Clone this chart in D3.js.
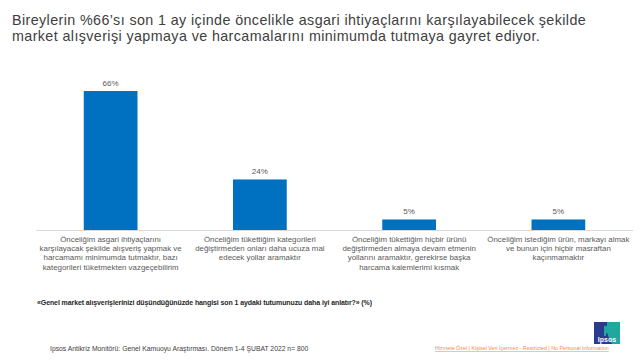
<!DOCTYPE html>
<html><head><meta charset="utf-8">
<script src="https://cdn.jsdelivr.net/npm/d3@7"></script>
<style>body{margin:0;background:#fff;}svg{display:block;font-family:"Liberation Sans",Arial,sans-serif;}</style>
</head><body>
<svg id="c" width="640" height="360"></svg>
<script>
const titleLines = ["Bireylerin %66’sı son 1 ay içinde öncelikle asgari ihtiyaçlarını karşılayabilecek şekilde",
  "market alışverişi yapmaya ve harcamalarını minimumda tutmaya gayret ediyor."];
const categories = ["c1","c2","c3","c4"];
const categoryLabels = [
  ["Önceliğim asgari ihtiyaçlarını","karşılayacak şekilde alışveriş yapmak ve","harcamamı minimumda tutmaktır, bazı","kategorileri tüketmekten vazgeçebilirim"],
  ["Önceliğim tükettiğim kategorileri","değiştirmeden onları daha ucuza mal","edecek yollar aramaktır"],
  ["Önceliğim tükettiğim hiçbir ürünü","değiştirmeden almaya devam etmenin","yollarını aramaktır, gerekirse başka","harcama kalemlerimi kısmak"],
  ["Önceliğim istediğim ürün, markayı almak","ve bunun için hiçbir masraftan","kaçınmamaktır"]
];
const values = [66, 24, 5, 5];
const questionText = "«Genel market alışverişlerinizi düşündüğünüzde hangisi son 1 aydaki tutumunuzu daha iyi anlatır?» (%)";
const sourceText = "Ipsos Antikriz Monitörü: Genel Kamuoyu Araştırması.  Dönem  1-4 ŞUBAT 2022 n= 800";
const classText = "Hizmete Özel | Kişisel Veri İçermez - Restricted | No Personal Information";

const svg = d3.select("#c");
const x = d3.scaleBand().domain(categories).range([36, 633]).paddingInner(0.64).paddingOuter(0.32);
const y = d3.scaleLinear().domain([0, 66]).range([230, 91]);

svg.append("g").selectAll("text").data(titleLines).join("text")
  .attr("x", 12).attr("y", (d,i)=>25+i*15.5)
  .attr("font-size", 14.3).attr("fill", "#404040").attr("letter-spacing", 0.4)
  .text(d=>d);

svg.append("line").attr("x1",36).attr("x2",633).attr("y1",230.5).attr("y2",230.5)
  .attr("stroke","#d9d9d9").attr("stroke-width",1);

svg.append("g").selectAll("rect").data(values).join("rect")
  .attr("x",(d,i)=>x(categories[i])).attr("width",x.bandwidth())
  .attr("y",d=>y(d)).attr("height",d=>y(0)-y(d)).attr("fill","#0070c0");

svg.append("g").selectAll("text").data(values).join("text")
  .attr("x",(d,i)=>x(categories[i])+x.bandwidth()/2).attr("y",d=>y(d)-5)
  .attr("text-anchor","middle").attr("font-size",8).attr("fill","#595959")
  .text(d=>d+"%");

const lab = svg.append("g").selectAll("text").data(categoryLabels).join("text")
  .attr("text-anchor","middle").attr("font-size",7.9).attr("fill","#595959");
lab.each(function(lines,i){
  d3.select(this).selectAll("tspan").data(lines).join("tspan")
    .attr("x", x(categories[i])+x.bandwidth()/2).attr("y",(d,j)=>242+j*9.2).text(d=>d);
});

svg.append("text").attr("x",37).attr("y",305).attr("font-size",7).attr("font-weight","bold")
  .attr("fill","#262626").attr("letter-spacing",-0.1).text(questionText);
svg.append("text").attr("x",50).attr("y",351).attr("font-size",6.8).attr("fill","#404040").text(sourceText);
svg.append("text").attr("x",435).attr("y",350).attr("font-size",5.35).attr("fill","#f08a4b")
  .attr("text-decoration","underline").text(classText);

// logo
const logo = svg.append("g");
logo.append("rect").attr("x",594).attr("y",322).attr("width",26).attr("height",22).attr("fill","#2a3a8f");
logo.append("path").attr("d","M607,322 L620,322 L620,344 L612,344 Q606,336 607,322 Z").attr("fill","#1fa7a0");
logo.append("path").attr("d","M604,326 q4,-1 5,3 q0,4 -3,5 l0,2 l-2,0 z").attr("fill","#1fa7a0");
logo.append("text").attr("x",607).attr("y",342).attr("text-anchor","middle").attr("font-size",7).attr("font-weight","bold")
  .attr("fill","#fff").text("Ipsos");
</script>
</body></html>
